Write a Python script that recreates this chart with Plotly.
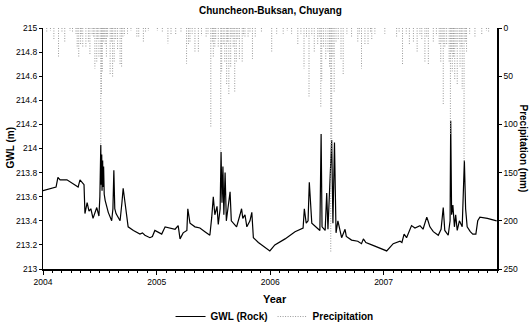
import plotly.graph_objects as go

# ---------------- data ----------------
gwl_dates = [
    "2004-01-01","2004-01-16","2004-02-02","2004-02-12","2004-02-18","2004-02-25","2004-03-18",
    "2004-04-07","2004-04-23","2004-04-29","2004-05-05","2004-05-12","2004-05-15","2004-05-22",
    "2004-05-28","2004-06-03","2004-06-10","2004-06-22","2004-06-29","2004-07-02","2004-07-05",
    "2004-07-06","2004-07-08","2004-07-09","2004-07-11","2004-07-12","2004-07-14","2004-07-16",
    "2004-07-19","2004-07-29","2004-08-09","2004-08-13","2004-08-16","2004-08-19","2004-08-23",
    "2004-09-05","2004-09-11","2004-09-15","2004-09-21","2004-10-01","2004-10-18","2004-11-08",
    "2004-11-16","2004-11-24","2004-12-10","2004-12-18","2004-12-26",
    "2005-01-17","2005-01-28","2005-02-14","2005-03-01","2005-03-11","2005-03-17","2005-03-27",
    "2005-04-08","2005-04-11","2005-04-18","2005-05-04","2005-05-20","2005-06-05","2005-06-21",
    "2005-06-27","2005-07-02","2005-07-07","2005-07-14","2005-07-18","2005-07-24","2005-07-27",
    "2005-07-30","2005-08-02","2005-08-05","2005-08-09","2005-08-13","2005-08-18","2005-08-25",
    "2005-08-29","2005-09-15","2005-09-26","2005-10-01","2005-10-05","2005-10-12","2005-10-18",
    "2005-10-28","2005-11-03","2005-11-08","2005-11-24","2005-12-15","2005-12-31",
    "2006-01-16","2006-02-18","2006-03-22","2006-04-07","2006-04-17","2006-04-21","2006-04-27",
    "2006-05-03","2006-05-07","2006-05-15","2006-05-29","2006-06-10","2006-06-14","2006-06-17",
    "2006-06-27","2006-07-02","2006-07-06","2006-07-13","2006-07-18","2006-07-22","2006-07-27",
    "2006-08-01","2006-08-07","2006-08-19","2006-08-30","2006-09-03","2006-09-20","2006-10-10",
    "2006-10-22","2006-10-28","2006-11-05","2006-11-24","2006-12-15",
    "2007-01-11","2007-02-01","2007-02-23","2007-03-01","2007-03-08","2007-03-16","2007-04-01",
    "2007-04-12","2007-04-28","2007-05-08","2007-05-20","2007-05-24","2007-05-30","2007-06-10",
    "2007-06-26","2007-07-05","2007-07-12","2007-07-17","2007-07-28","2007-08-03","2007-08-05",
    "2007-08-08","2007-08-12","2007-08-17","2007-08-21","2007-08-26","2007-09-02","2007-09-11",
    "2007-09-18","2007-09-22","2007-09-27","2007-10-07","2007-10-15","2007-10-25","2007-10-31",
    "2007-11-07","2007-12-01","2007-12-31",
]
gwl_values = [
    213.65,213.66,213.67,213.68,213.76,213.74,213.74,
    213.71,213.68,213.74,213.72,213.70,213.46,213.55,
    213.48,213.50,213.42,213.51,213.44,213.60,214.03,
    213.70,213.95,213.65,213.90,213.68,213.85,213.62,
    213.57,213.47,213.40,213.50,213.82,213.50,213.46,
    213.40,213.55,213.67,213.55,213.35,213.32,213.29,
    213.30,213.28,213.26,213.27,213.32,
    213.29,213.35,213.34,213.33,213.36,213.25,213.30,
    213.32,213.50,213.38,213.35,213.34,213.31,213.28,
    213.43,213.60,213.45,213.52,213.37,213.50,213.97,
    213.55,213.85,213.45,213.80,213.40,213.50,213.64,
    213.40,213.35,213.45,213.50,213.42,213.45,213.35,
    213.40,213.47,213.26,213.22,213.18,213.15,
    213.20,213.25,213.31,213.33,213.34,213.50,213.38,
    213.40,213.72,213.38,213.35,213.32,214.12,213.35,
    213.32,213.63,213.33,213.75,214.07,213.38,214.05,
    213.30,213.40,213.26,213.33,213.27,213.24,213.23,
    213.21,213.25,213.22,213.20,213.18,
    213.15,213.21,213.23,213.22,213.29,213.26,213.36,
    213.34,213.36,213.33,213.43,213.40,213.35,213.31,
    213.28,213.33,213.51,213.32,213.28,213.40,214.23,
    213.45,213.53,213.35,213.45,213.32,213.40,213.35,
    213.90,213.50,213.35,213.31,213.29,213.29,213.40,
    213.43,213.42,213.40,
]

# larger daily rainfall events (mm)
rain_dates = [
    "2004-01-13","2004-02-05","2004-02-20","2004-03-11","2004-03-28","2004-04-16","2004-04-20",
    "2004-04-25","2004-05-01","2004-05-08","2004-05-18","2004-05-26","2004-05-31","2004-06-07",
    "2004-06-16","2004-06-22","2004-06-29","2004-07-05","2004-07-07","2004-07-10","2004-07-13",
    "2004-07-16","2004-07-23","2004-08-04","2004-08-12","2004-08-17","2004-08-28","2004-09-05",
    "2004-09-10","2004-09-19","2004-09-29","2004-10-29","2004-11-04","2004-11-19","2004-11-26",
    "2005-01-03","2005-01-19","2005-02-06","2005-02-16","2005-03-03","2005-04-07","2005-04-13",
    "2005-04-18","2005-05-04","2005-05-15","2005-06-09","2005-06-24","2005-07-02","2005-07-07",
    "2005-07-26","2005-07-29","2005-08-08","2005-08-14","2005-08-21","2005-08-27","2005-09-09",
    "2005-09-14","2005-09-24","2005-10-03","2005-10-12","2005-10-22","2005-11-05","2005-11-14",
    "2005-12-04",
    "2006-01-06","2006-01-22","2006-02-12","2006-03-11","2006-03-31","2006-04-20","2006-05-06",
    "2006-05-23","2006-06-03","2006-06-13","2006-06-16","2006-06-29","2006-07-15","2006-07-18",
    "2006-07-26","2006-08-17","2006-08-24","2006-09-20","2006-10-10","2006-10-22","2006-11-02",
    "2006-11-12","2006-11-24","2006-12-04",
    "2007-01-05","2007-02-12","2007-03-03","2007-03-25","2007-04-07","2007-04-19","2007-05-04",
    "2007-05-14","2007-05-25","2007-06-10","2007-06-29","2007-07-04","2007-07-12","2007-07-23",
    "2007-07-31","2007-08-04","2007-08-10","2007-08-18","2007-08-26","2007-09-04","2007-09-11",
    "2007-09-17","2007-09-25","2007-10-22","2007-11-13","2007-12-05",
]
rain_mm = [
    4,12,30,14,3,6,21,
    30,18,20,20,15,28,8,
    42,35,30,122,70,45,15,
    12,30,49,51,35,22,38,
    40,8,6,10,10,14,4,
    3,4,16,7,7,37,18,
    15,25,26,9,103,30,20,
    128,45,35,59,70,40,66,
    35,32,35,9,9,32,9,
    4,
    25,6,6,6,18,42,71,
    25,18,82,55,33,233,130,
    66,33,49,9,15,42,18,
    18,12,6,
    6,9,38,17,15,25,12,
    35,38,15,18,35,80,18,
    35,110,45,54,59,40,63,
    140,25,10,7,4,
]

# smaller rainfall days forming the band along the top
small_rain_dates = [
    "2004-01-25","2004-03-02","2004-04-05","2004-05-03","2004-06-12","2004-06-25","2004-07-19",
    "2004-07-27","2004-08-08","2004-08-22","2004-09-14","2004-10-10","2004-12-05",
    "2005-03-20","2005-04-25","2005-05-25","2005-06-15","2005-06-29","2005-07-10","2005-07-18",
    "2005-08-03","2005-08-17","2005-08-31","2005-09-04","2005-09-19","2005-10-07","2005-10-28",
    "2006-02-25","2006-04-10","2006-04-28","2006-05-15","2006-06-08","2006-06-22","2006-07-06",
    "2006-07-11","2006-07-22","2006-08-01","2006-08-08","2006-09-05","2006-10-15","2006-11-20",
    "2007-02-20","2007-03-15","2007-04-28","2007-05-20","2007-06-20","2007-07-08","2007-07-17",
    "2007-08-07","2007-08-14","2007-08-22","2007-09-01","2007-09-08","2007-09-21","2007-10-05",
    "2007-11-28",
]
small_rain_mm = [
    3,5,4,8,10,12,18,
    10,15,12,10,3,3,
    4,6,8,6,15,12,20,
    18,15,10,20,12,8,4,
    3,6,10,8,10,20,25,
    40,30,15,12,6,6,4,
    4,6,8,10,8,15,20,
    25,30,20,15,20,15,6,
    3,
]

year_ticks = ["2004-01-01", "2005-01-01", "2006-01-01", "2007-01-01"]
year_labels = ["2004", "2005", "2006", "2007"]

# ---------------- build precipitation sticks ----------------
px_, py_ = [], []
for d, v in zip(rain_dates + small_rain_dates, rain_mm + small_rain_mm):
    px_ += [d, d, None]
    py_ += [0, v, None]

FONT = "Liberation Sans, Arial, sans-serif"

fig = go.Figure()
fig.add_trace(go.Scatter(
    x=gwl_dates, y=gwl_values, mode="lines", name="GWL (Rock)",
    line=dict(color="black", width=1.2),
))
fig.add_trace(go.Scatter(
    x=px_, y=py_, mode="lines", name="Precipitation", yaxis="y2",
    line=dict(color="#9a9a9a", width=1, dash="1px,1.5px"), connectgaps=False,
))

fig.update_layout(
    width=529, height=328,
    margin=dict(l=43, r=32, t=28, b=59, autoexpand=False),
    paper_bgcolor="white", plot_bgcolor="white",
    font=dict(family=FONT, size=9, color="black"),
    showlegend=True,
    legend=dict(
        orientation="h", x=0.51, xanchor="center",
        yref="container", y=0.035, yanchor="middle",
        font=dict(family=FONT, size=10, color="black", weight="bold"),
        itemwidth=30, tracegroupgap=0, bgcolor="rgba(0,0,0,0)",
    ),
    xaxis=dict(
        type="date", range=["2004-01-01", "2008-01-01"],
        tickvals=year_ticks, ticktext=year_labels,
        ticks="outside", ticklen=4, tickcolor="black",
        minor=dict(dtick="M1", ticks="outside", ticklen=2, tickcolor="black"),
        showline=True, linecolor="black", linewidth=1.5,
        showgrid=False, zeroline=False, automargin=False,
        tickfont=dict(size=8.5),
    ),
    yaxis=dict(
        range=[213, 215], dtick=0.2, tick0=213,
        ticks="outside", ticklen=3, tickcolor="black",
        showline=True, linecolor="black", linewidth=1.2,
        showgrid=False, zeroline=False, automargin=False,
        tickfont=dict(size=8.5),
    ),
    yaxis2=dict(
        overlaying="y", side="right", range=[250, 0], dtick=50,
        ticks="outside", ticklen=3, tickcolor="black",
        showline=True, linecolor="black", linewidth=1.5,
        showgrid=False, zeroline=False, automargin=False,
        tickfont=dict(size=8.5),
    ),
    annotations=[
        dict(text="<b>Chuncheon-Buksan, Chuyang</b>", xref="paper", yref="paper",
             x=0.5, y=1, yshift=18, showarrow=False, font=dict(size=10),
             xanchor="center", yanchor="middle"),
        dict(text="<b>Year</b>", xref="paper", yref="paper",
             x=0.51, y=0, yshift=-30, showarrow=False, font=dict(size=11),
             xanchor="center", yanchor="middle"),
        dict(text="<b>GWL (m)</b>", xref="paper", yref="paper", x=0, xshift=-33,
             y=0.5, showarrow=False, textangle=-90, font=dict(size=10),
             xanchor="center", yanchor="middle"),
        dict(text="<b>Precipitation (mm)</b>", xref="paper", yref="paper", x=1, xshift=26,
             y=0.5, showarrow=False, textangle=90, font=dict(size=10),
             xanchor="center", yanchor="middle"),
    ],
)

fig.write_html("out.html")
